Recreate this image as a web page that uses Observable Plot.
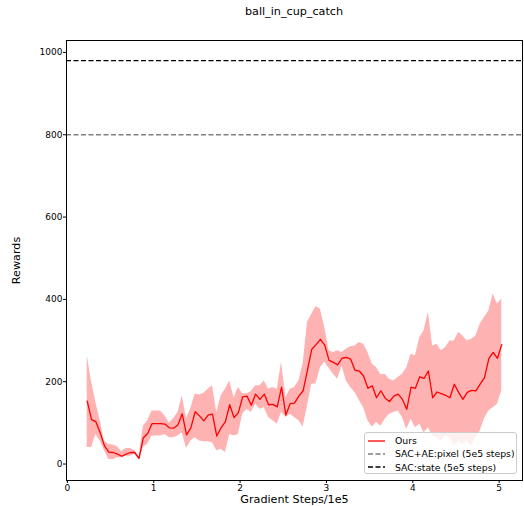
<!DOCTYPE html>
<html><head><meta charset="utf-8">
<script src="https://cdn.jsdelivr.net/npm/d3@7"></script>
<script src="https://cdn.jsdelivr.net/npm/@observablehq/plot@0.6"></script>
<style>
body{margin:0;background:#fff;font-family:"DejaVu Sans",sans-serif;}
#wrap{position:relative;width:524px;height:506px;overflow:hidden;}
#title{position:absolute;left:66px;width:456px;top:5px;text-align:center;font-size:11.2px;line-height:14px;color:#000;}
#chart{position:absolute;left:0;top:30px;}
#legend{position:absolute;left:364px;top:432px;width:153px;height:42px;box-sizing:border-box;background:rgba(255,255,255,0.8);border:1px solid #cccccc;border-radius:3px;font-size:9.3px;color:#000;padding-top:1px;}
.row{height:13.3px;line-height:13.3px;display:flex;align-items:center;white-space:nowrap;}
.row svg{margin-left:3px;margin-right:10px;flex:none;}
</style></head>
<body>
<div id="wrap">
  <div id="title">ball_in_cup_catch</div>
  <div id="chart"></div>
  <div id="legend"></div>
</div>
<script>
const steps = [
0.23,0.28,0.33,0.38,0.43,0.48,0.53,0.58,0.63,0.68,
0.73,0.78,0.83,0.88,0.93,0.98,1.03,1.08,1.13,1.18,
1.23,1.28,1.33,1.38,1.43,1.48,1.53,1.58,1.63,1.68,
1.73,1.78,1.83,1.88,1.93,1.98,2.03,2.08,2.13,2.18,
2.23,2.28,2.33,2.38,2.43,2.48,2.53,2.58,2.63,2.68,
2.73,2.78,2.83,2.88,2.93,2.98,3.03,3.08,3.13,3.18,
3.23,3.28,3.33,3.38,3.43,3.48,3.53,3.58,3.63,3.68,
3.73,3.78,3.83,3.88,3.93,3.98,4.03,4.08,4.13,4.18,
4.23,4.28,4.33,4.38,4.43,4.48,4.53,4.58,4.63,4.68,
4.73,4.78,4.83,4.88,4.93,4.98,5.03];
const ours = [
153,108,103,76,44,29,28,24,19,24,
28,28,14,64,74,98,98,98,97,88,
87,95,122,71,88,127,117,105,119,121,
68,88,103,144,113,125,163,165,143,170,
157,170,144,145,139,187,119,147,148,165,
178,228,279,290,303,289,252,247,241,257,
259,255,228,226,214,184,190,161,178,160,
152,165,170,157,133,187,184,212,208,226,
161,175,171,167,161,194,174,157,174,179,
178,194,210,256,271,257,290];
const oursHigh = [
263,200,150,105,55,48,46,42,30,38,
38,33,17,92,105,129,129,129,117,100,
110,125,165,110,135,170,168,172,182,190,
125,165,182,202,161,186,171,171,176,190,
190,202,182,186,182,247,161,182,186,202,
243,344,364,383,376,332,275,271,275,271,
279,285,287,295,291,271,243,234,217,218,
206,202,210,218,234,267,263,307,324,368,
287,291,275,283,299,299,320,311,299,303,
311,340,356,372,413,389,401];
const oursLow = [
40,40,72,56,32,11,11,15,15,19,
19,24,10,41,48,68,68,68,72,64,
64,68,76,38,56,64,56,54,54,52,
32,36,28,72,68,72,121,133,125,145,
133,137,113,105,97,125,113,121,113,105,
90,141,194,195,234,247,233,218,206,238,
202,186,174,155,137,105,90,101,92,109,
121,125,129,113,84,109,88,97,76,88,
68,64,56,68,64,44,56,48,56,44,
64,80,110,129,137,145,178];
const sacAePixel = 800;
const sacState = 980;
const xTicks = [0,1,2,3,4,5];
const yTicks = [0,200,400,600,800,1000];
const legendLabels = ["Ours","SAC+AE:pixel (5e5 steps)","SAC:state (5e5 steps)"];

const data = steps.map((s,i)=>({step:s, mean:ours[i], lo:oursLow[i], hi:oursHigh[i]}));

const chart = Plot.plot({
  width:524, height:476,
  marginLeft:66, marginRight:2, marginTop:10, marginBottom:26,
  style:{fontFamily:"DejaVu Sans", fontSize:"9px", color:"black", background:"white", overflow:"visible"},
  x:{domain:[-0.01,5.27]},
  y:{domain:[-40,1029]},
  marks:[
    Plot.areaY(data,{x:"step", y1:"lo", y2:"hi", fill:"red", fillOpacity:0.3}),
    Plot.lineY(data,{x:"step", y:"mean", stroke:"red", strokeWidth:1.3}),
    Plot.ruleY([sacAePixel],{stroke:"grey", strokeWidth:1.3, strokeDasharray:"5,2.5"}),
    Plot.ruleY([sacState],{stroke:"black", strokeWidth:1.3, strokeDasharray:"5,2.5"}),
    Plot.frame({stroke:"black", strokeWidth:1}),
    Plot.axisX({ticks:xTicks, tickSize:3, tickPadding:1, label:null, tickFormat:d=>String(d)}),
    Plot.axisY({ticks:yTicks, tickSize:3, tickPadding:1, label:null, tickFormat:d=>String(d)}),
    Plot.text(["Gradient Steps/1e5"],{frameAnchor:"bottom", dy:19, fontSize:11.2, lineAnchor:"middle", textAnchor:"middle"}),
    Plot.text(["Rewards"],{frameAnchor:"left", dx:-50, rotate:-90, fontSize:11.2, lineAnchor:"middle", textAnchor:"middle"})
  ]
});
document.getElementById("chart").appendChild(chart);

const samples = [
  '<svg width="17" height="6"><line x1="0" y1="3" x2="17" y2="3" stroke="red" stroke-width="1.3"/></svg>',
  '<svg width="17" height="6"><line x1="0" y1="3" x2="17" y2="3" stroke="grey" stroke-width="1.3" stroke-dasharray="5,2.5"/></svg>',
  '<svg width="17" height="6"><line x1="0" y1="3" x2="17" y2="3" stroke="black" stroke-width="1.3" stroke-dasharray="5,2.5"/></svg>'
];
const leg = document.getElementById("legend");
legendLabels.forEach((t,i)=>{
  const r = document.createElement("div");
  r.className = "row";
  r.innerHTML = samples[i] + "<span></span>";
  r.querySelector("span").textContent = t;
  leg.appendChild(r);
});
</script>
</body></html>
